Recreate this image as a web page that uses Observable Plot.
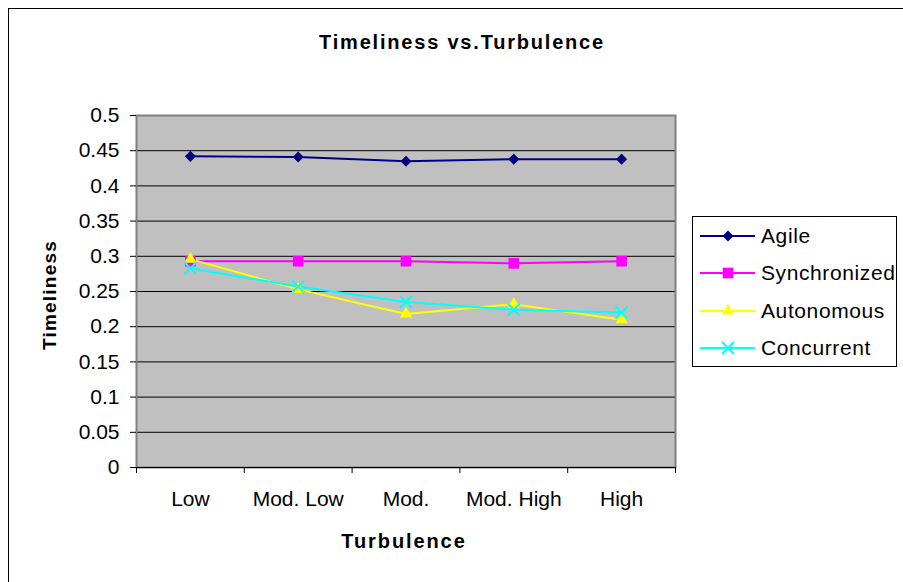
<!DOCTYPE html>
<html><head><meta charset="utf-8">
<script src="https://cdn.jsdelivr.net/npm/d3@7"></script>
<script src="https://cdn.jsdelivr.net/npm/@observablehq/plot@0.6"></script>
<style>
body{margin:0;background:#fff;font-family:"Liberation Sans",Arial,sans-serif;}
#wrap{position:relative;width:903px;height:582px;overflow:hidden;background:#fff;}
#border{position:absolute;left:8px;top:8px;width:1000px;height:1000px;border:1px solid #000;box-sizing:border-box;}
#chart{position:absolute;left:0;top:0;}
#chart svg text{font-size:21px;}
.lbl{position:absolute;font-weight:bold;color:#000;white-space:nowrap;}
#title{left:462px;top:42px;transform:translate(-50%,-50%);font-size:20px;letter-spacing:1.8px;}
#xtitle{left:404px;top:541px;transform:translate(-50%,-50%);font-size:20px;letter-spacing:1.9px;}
#ytitle{left:50px;top:295px;transform:translate(-50%,-50%) rotate(-90deg);font-size:19px;letter-spacing:1.2px;}
#legend{position:absolute;left:692px;top:216px;width:205px;height:151px;border:1px solid #000;box-sizing:border-box;background:#fff;}
</style></head><body>
<div id="wrap">
  <div id="border"></div>
  <div id="chart"></div>
  <div id="title" class="lbl">Timeliness vs.Turbulence</div>
  <div id="ytitle" class="lbl">Timeliness</div>
  <div id="xtitle" class="lbl">Turbulence</div>
  <div id="legend"></div>
</div>
<script>
const categories = ["Low", "Mod. Low", "Mod.", "Mod. High", "High"];
const seriesNames = ["Agile", "Synchronized", "Autonomous", "Concurrent"];
const agile        = [0.442, 0.441, 0.435, 0.438, 0.438];
const synchronized = [0.293, 0.293, 0.293, 0.290, 0.293];
const autonomous   = [0.296, 0.253, 0.218, 0.232, 0.210];
const concurrent   = [0.283, 0.257, 0.235, 0.224, 0.220];
const yTicks = [0, 0.05, 0.1, 0.15, 0.2, 0.25, 0.3, 0.35, 0.4, 0.45, 0.5];

const seriesValues = [agile, synchronized, autonomous, concurrent];
const styles = [
  {color: "#000080", symbol: "diamond2", r: 5, d3sym: d3.symbolDiamond2, fill: true},
  {color: "#FF00FF", symbol: "square", r: 6, d3sym: d3.symbolSquare, fill: true},
  {color: "#FFFF00", symbol: "triangle", r: 4.6, d3sym: d3.symbolTriangle, fill: true},
  {color: "#00FFFF", symbol: "times", r: 5.5, d3sym: d3.symbolTimes, fill: false}
];

const data = seriesNames.map((name, s) =>
  categories.map((c, i) => ({series: name, idx: i + 0.5, cat: c, value: seriesValues[s][i]}))
);

const marks = [
  Plot.frame({fill: "#C0C0C0", stroke: "none"}),
  Plot.gridY(yTicks.filter(v => v > 0 && v < 0.5), {stroke: "#000", strokeOpacity: 1, strokeWidth: 1}),
  Plot.frame({stroke: "#808080", strokeWidth: 2, fill: "none"}),
  Plot.ruleY([0], {stroke: "#000", strokeWidth: 1}),
  Plot.axisY({ticks: yTicks, tickSize: 6, tickPadding: 11, fontSize: 21,
    tickFormat: d => String(+d.toFixed(2)), label: null, stroke: "#000"}),
  Plot.axisX({ticks: d3.range(0, categories.length + 1), tickSize: 6, tickFormat: () => "", label: null}),
  Plot.axisX({ticks: categories.map((c, i) => i + 0.5), tickSize: 0, tickPadding: 24, fontSize: 21,
    tickFormat: d => categories[Math.floor(d)], label: null})
];
data.forEach((rows, s) => {
  const st = styles[s];
  marks.push(Plot.line(rows, {x: "idx", y: "value", stroke: st.color, strokeWidth: 2}));
});
data.forEach((rows, s) => {
  const st = styles[s];
  marks.push(Plot.dot(rows, {x: "idx", y: "value", symbol: () => st.symbol, r: st.r,
    fill: st.fill ? st.color : "none", stroke: st.fill ? "none" : st.color, strokeWidth: 2}));
});

const plot = Plot.plot({
  width: 903, height: 582,
  marginTop: 115, marginBottom: 115, marginLeft: 136, marginRight: 228,
  style: {fontFamily: '"Liberation Sans", Arial, sans-serif', fontSize: "21px", background: "transparent", color: "#000"},
  x: {type: "linear", domain: [0, categories.length]},
  y: {type: "linear", domain: [0, 0.5]},
  symbol: {type: "identity"},
  marks
});
document.getElementById("chart").appendChild(plot);

// legend
const lg = d3.select("#legend").append("svg").attr("width", 203).attr("height", 149)
  .style("position", "absolute").style("left", "0").style("top", "0");
const rowY = [19, 56, 94, 131];
seriesNames.forEach((name, s) => {
  const st = styles[s];
  const g = lg.append("g").attr("transform", `translate(0,${rowY[s]})`);
  g.append("line").attr("x1", 7).attr("x2", 62).attr("y1", 0).attr("y2", 0)
    .attr("stroke", st.color).attr("stroke-width", 2);
  g.append("path").attr("transform", "translate(35,0)")
    .attr("d", d3.symbol(st.d3sym, Math.PI * st.r * st.r)())
    .attr("fill", st.fill ? st.color : "none").attr("stroke", st.fill ? "none" : st.color)
    .attr("stroke-width", 2);
  g.append("text").attr("x", 68).attr("y", 0).attr("dy", "0.35em")
    .attr("font-size", 21).attr("letter-spacing", 0.6)
    .attr("font-family", '"Liberation Sans", Arial, sans-serif')
    .text(name);
});
</script>
</body></html>
